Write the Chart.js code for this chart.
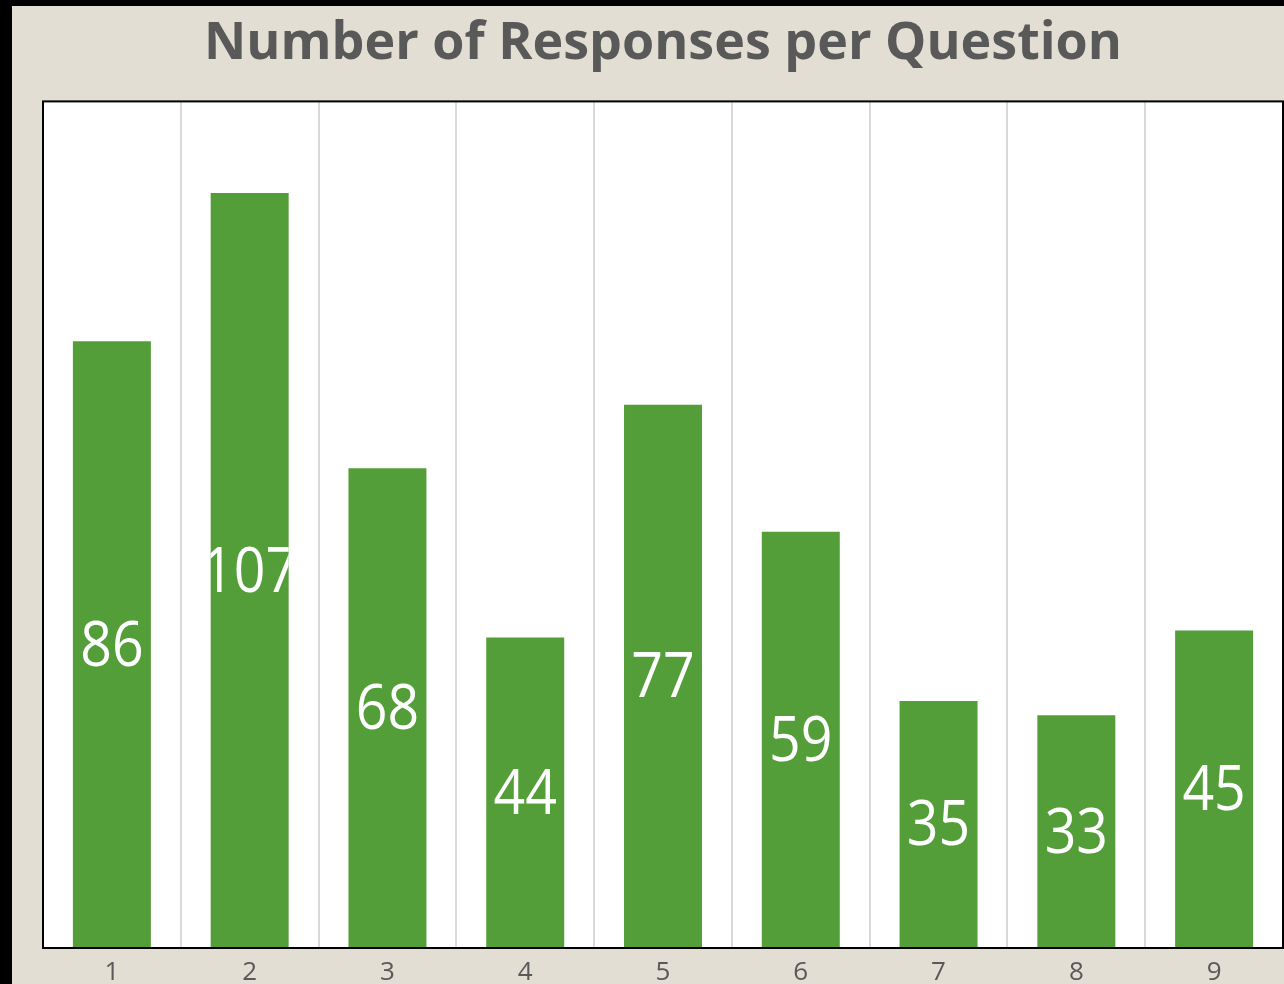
<!DOCTYPE html>
<html>
<head>
<meta charset="utf-8">
<script src="https://cdn.jsdelivr.net/npm/chart.js@4"></script>
<style>
  html, body { margin: 0; padding: 0; background: #000; overflow: hidden; }
  #wrap { position: absolute; left: 12px; top: 6px; width: 1272px; height: 996px; background: #e3ded3; }
</style>
</head>
<body>
<div id="wrap"><canvas id="chart"></canvas></div>
<script>
'use strict';

// question numbers and how many answered each
const questions = ['1', '2', '3', '4', '5', '6', '7', '8', '9'];
const responses = [86, 107, 68, 44, 77, 59, 35, 33, 45];
const chartTitle = 'Number of Responses per Question';

//white plot area with black frame
const plotFrame = {
  id: 'plotFrame',
  beforeDraw(chart){
    let a = chart.chartArea;
    let ctx = chart.ctx;
    ctx.save();
    ctx.fillStyle = '#ffffff';
    ctx.fillRect(a.left, a.top, a.right - a.left, a.bottom - a.top);
    ctx.restore();
  },
  afterDraw(chart){
    let a = chart.chartArea;
    let ctx = chart.ctx;
    ctx.save();
    ctx.strokeStyle = '#000000';
    ctx.lineWidth = 2;
    ctx.strokeRect(a.left, a.top, a.right - a.left, a.bottom - a.top);
    ctx.restore();
  }
};

//value written in the middle of each bar, clipped to the bar
const barValues = {
  id: 'barValues',
  afterDatasetsDraw(chart){
    let ctx = chart.ctx;
    let meta = chart.getDatasetMeta(0);
    meta.data.forEach(function(bar, i){
      let w = bar.width;
      ctx.save();
      ctx.beginPath();
      ctx.rect(bar.x - w / 2, bar.y, w, bar.base - bar.y);
      ctx.clip();
      ctx.translate(bar.x, (bar.y + bar.base) / 2);
      ctx.scale(0.88, 1);
      ctx.fillStyle = '#ffffff';
      ctx.font = '63px "Open Sans"';
      ctx.textAlign = 'center';
      ctx.textBaseline = 'middle';
      ctx.fillText(String(chart.data.datasets[0].data[i]), 0, 3);
      ctx.restore();
    });
  }
};

const config = {
  type: 'bar',
  data: {
    labels: questions,
    datasets: [{
      data: responses,
      backgroundColor: '#549e39',
      barPercentage: 1,
      categoryPercentage: 0.566
    }]
  },
  options: {
    responsive: true,
    maintainAspectRatio: false,
    animation: false,
    layout: { padding: { left: 31, right: 1, top: 0, bottom: 4 } },
    plugins: {
      legend: { display: false },
      tooltip: { enabled: false },
      title: {
        display: true,
        text: chartTitle,
        color: '#595959',
        font: { family: 'Open Sans', size: 52, weight: 'bold', lineHeight: 1.2 },
        padding: { top: 7, bottom: 26 }
      }
    },
    scales: {
      x: {
        grid: { color: '#d9d9d9', lineWidth: 2, drawTicks: false },
        border: { display: false },
        ticks: { color: '#595959', font: { family: 'Open Sans', size: 26, lineHeight: 1 }, padding: 12 }
      },
      y: {
        display: false,
        min: 0,
        max: 120
      }
    }
  },
  plugins: [plotFrame, barValues]
};

new Chart(document.getElementById('chart'), config);
</script>
</body>
</html>
